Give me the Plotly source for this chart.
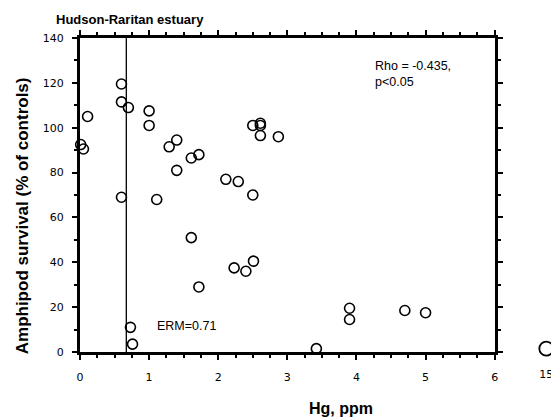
import plotly.graph_objects as go

hg_ppm = [0.01, 0.05, 0.11, 0.60, 0.60, 0.70, 1.00, 1.00, 1.29, 1.40, 1.40, 1.61, 1.72,
          2.11, 2.29, 2.50, 2.61, 2.61, 2.61, 2.87, 0.60, 1.11, 2.50, 1.61, 2.23, 2.40,
          2.51, 1.72, 0.73, 0.76, 3.42, 3.90, 3.90, 4.70, 5.00]
survival = [92.5, 90.5, 105, 119.5, 111.5, 109, 107.5, 101, 91.5, 94.5, 81, 86.5, 88,
            77, 76, 101, 102, 101, 96.5, 96, 69, 68, 70, 51, 37.5, 36, 40.5, 29, 11,
            3.5, 1.5, 19.5, 14.5, 18.5, 17.5]
outlier_hg = [15]
outlier_survival = [1.5]
erm_line_x = 0.67
erm_label = "ERM=0.71"
stats_label = "Rho = -0.435,<br>p<0.05"
x_ticks = [0, 1, 2, 3, 4, 5, 6]
y_ticks = [0, 20, 40, 60, 80, 100, 120, 140]

font = "Liberation Sans, Arial, sans-serif"
tickfont = "DejaVu Sans, sans-serif"

fig = go.Figure()
fig.add_trace(go.Scatter(
    x=hg_ppm, y=survival, mode="markers",
    marker=dict(symbol="circle-open", size=10, color="black", line=dict(width=1.6)),
    showlegend=False, cliponaxis=False))
fig.add_trace(go.Scatter(
    x=outlier_hg, y=outlier_survival, mode="markers", xaxis="x2",
    marker=dict(symbol="circle-open", size=14, color="black", line=dict(width=1.8)),
    showlegend=False, cliponaxis=False))

fig.add_shape(type="line", x0=erm_line_x, x1=erm_line_x, y0=0, y1=140,
              xref="x", yref="y", line=dict(color="black", width=1.3))

fig.add_annotation(x=1.09, y=11.5, xref="x", yref="y", text=erm_label, showarrow=False,
                   xanchor="left", yanchor="middle", font=dict(family=font, size=12.5, color="black"))
fig.add_annotation(x=4.24, y=131.5, xref="x", yref="y", text=stats_label, showarrow=False,
                   xanchor="left", yanchor="top", align="left",
                   font=dict(family=font, size=12.5, color="black"))
fig.add_annotation(x=-0.055, y=1.03, xref="paper", yref="paper", text="<b>Hudson-Raritan estuary</b>",
                   showarrow=False, xanchor="left", yanchor="bottom",
                   font=dict(family=font, size=13, color="black"))
fig.add_annotation(x=3.78, y=0, xref="x", yref="paper", yshift=-56, text="<b>Hg, ppm</b>",
                   showarrow=False, xanchor="center", yanchor="middle",
                   font=dict(family=font, size=16, color="black"))
fig.add_annotation(x=-0.121, y=60.7, xref="paper", yref="y", text="<b>Amphipod survival (% of controls)</b>",
                   textangle=-90, showarrow=False, xanchor="center", yanchor="middle",
                   font=dict(family=font, size=17, color="black"))

axis_common = dict(showline=True, linecolor="black", linewidth=3, mirror="ticks",
                   ticks="outside", tickcolor="black", tickwidth=2, ticklen=5,
                   showgrid=False, zeroline=False,
                   tickfont=dict(family=tickfont, size=11, color="black"))

# the page body adds an 8px offset, so the figure is sized 8px smaller
fig.update_layout(
    width=551, height=412,
    margin=dict(l=72, r=0, t=30, b=68),
    paper_bgcolor="white", plot_bgcolor="white",
    xaxis=dict(range=[0, 6], domain=[0, 0.8712], tickvals=x_ticks,
               minor=dict(dtick=0.25, ticklen=3, tickwidth=2, tickcolor="black", ticks="outside"),
               ticklabelstandoff=8,
               **axis_common),
    xaxis2=dict(range=[13, 15.51], domain=[0.9, 1.0], anchor="y", tickvals=outlier_hg,
                showline=False, showgrid=False, zeroline=False, ticks="",
                ticklabelstandoff=14,
                tickfont=dict(family=tickfont, size=11, color="black")),
    yaxis=dict(range=[0, 140], tickvals=y_ticks,
               minor=dict(dtick=10, ticklen=3, tickwidth=2, tickcolor="black", ticks="outside"),
               ticklabelstandoff=6,
               **axis_common),
)

fig.write_html("out.html")
